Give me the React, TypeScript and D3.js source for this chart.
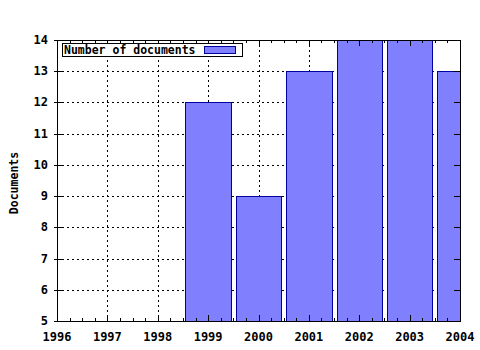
import React from "react";
import * as d3 from "d3";

const years = [1999, 2000, 2001, 2002, 2003, 2004];
const docs = [12, 9, 13, 14, 14, 13];
const xTicks = [1996, 1997, 1998, 1999, 2000, 2001, 2002, 2003, 2004];
const yTicks = [5, 6, 7, 8, 9, 10, 11, 12, 13, 14];
const legendLabel = "Number of documents";
const yLabel = "Documents";

export default function App() {
  const W = 480, H = 350;
  const L = 57, R = 460, T = 40, B = 321;
  const x = d3.scaleLinear().domain([1996, 2004]).range([L, R]);
  const y = d3.scaleLinear().domain([5, 14]).range([B, T]);
  const barW = 0.9;
  const font = "'DejaVu Sans Mono', monospace";
  const minor: number[] = [];
  for (let yr = 1996; yr < 2004; yr++) {
    [0.25, 0.5, 0.75].forEach((f) => minor.push(yr + f));
  }
  return (
    <svg width={W} height={H} style={{ position: "absolute", left: 0, top: 0 }}>
      <rect x={0} y={0} width={W} height={H} fill="#fff" />
      <defs>
        <clipPath id="plot">
          <rect x={L} y={T} width={R - L} height={B - T} />
        </clipPath>
      </defs>
      {/* grid */}
      <g stroke="#000" strokeWidth={1} strokeDasharray="2,3" shapeRendering="crispEdges">
        {xTicks.slice(1, -1).map((t) => (
          <line key={"gx" + t} x1={Math.round(x(t)) + 0.5} x2={Math.round(x(t)) + 0.5} y1={T} y2={B} />
        ))}
        {yTicks.slice(1, -1).map((t) => (
          <line key={"gy" + t} x1={L} x2={R} y1={Math.round(y(t)) + 0.5} y2={Math.round(y(t)) + 0.5} />
        ))}
      </g>
      {/* bars */}
      <g clipPath="url(#plot)" shapeRendering="crispEdges">
        {years.map((yr, i) => {
          const x0 = Math.round(x(yr - barW / 2));
          const x1 = Math.round(x(yr + barW / 2));
          const yt = Math.round(y(docs[i]));
          return (
            <rect key={yr} x={x0 + 0.5} y={yt + 0.5} width={x1 - x0} height={B - yt + 2}
              fill="#8080ff" stroke="#0000a0" strokeWidth={1} />
          );
        })}
      </g>
      {/* axes box */}
      <rect x={L + 0.5} y={T + 0.5} width={R - L} height={B - T} fill="none" stroke="#000" strokeWidth={1} shapeRendering="crispEdges" />
      <g stroke="#000" strokeWidth={1} shapeRendering="crispEdges">
        {xTicks.map((t) => {
          const px = Math.round(x(t)) + 0.5;
          return (
            <g key={"tx" + t}>
              <line x1={px} x2={px} y1={B} y2={B - 6} />
              <line x1={px} x2={px} y1={T} y2={T + 6} />
            </g>
          );
        })}
        {minor.map((t) => {
          const px = Math.round(x(t)) + 0.5;
          return (
            <g key={"mx" + t}>
              <line x1={px} x2={px} y1={B} y2={B - 3} />
              <line x1={px} x2={px} y1={T} y2={T + 3} />
            </g>
          );
        })}
        {yTicks.map((t) => {
          const py = Math.round(y(t)) + 0.5;
          return (
            <g key={"ty" + t}>
              <line x1={L - 3} x2={L + 6} y1={py} y2={py} />
              <line x1={R - 6} x2={R} y1={py} y2={py} />
            </g>
          );
        })}
      </g>
      {/* tick labels */}
      <g fontFamily={font} fontWeight="bold" fontSize={12} fill="#000">
        {xTicks.map((t) => (
          <text key={"lx" + t} x={x(t)} y={341} textAnchor="middle">{t}</text>
        ))}
        {yTicks.map((t) => (
          <text key={"ly" + t} x={48} y={y(t) + 4} textAnchor="end">{t}</text>
        ))}
      </g>
      <text x={0} y={0} transform={`translate(18,183) rotate(-90)`} textAnchor="middle"
        fontFamily={font} fontWeight="bold" fontSize={11.5}>{yLabel}</text>
      {/* legend */}
      <rect x={62.5} y={43.5} width={180} height={13} fill="#fff" stroke="#000" strokeWidth={1} shapeRendering="crispEdges" />
      <text x={64} y={54} fontFamily={font} fontWeight="bold" fontSize={11.5}>{legendLabel}</text>
      <rect x={204.5} y={46.5} width={31} height={7} fill="#8080ff" stroke="#0000a0" strokeWidth={1} shapeRendering="crispEdges" />
    </svg>
  );
}
